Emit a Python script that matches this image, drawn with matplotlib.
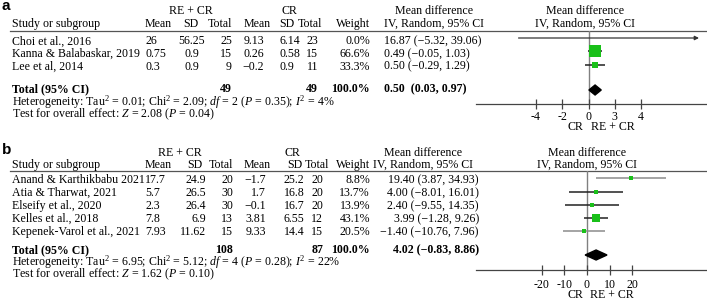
import matplotlib
matplotlib.use('Agg')
import matplotlib.pyplot as plt
from matplotlib.patches import Polygon

plt.rcParams['font.family'] = ['Liberation Serif', 'DejaVu Serif']
plt.rcParams['mathtext.fontset'] = 'custom'
plt.rcParams['mathtext.rm'] = 'Liberation Serif'
plt.rcParams['mathtext.it'] = 'Liberation Serif:italic'
plt.rcParams['mathtext.bf'] = 'Liberation Serif:bold'

# ---- panel a data ----
studies_a = ["Choi et al., 2016", "Kanna & Balabaskar, 2019", "Lee et al, 2014"]
re_mean_a = [26, 0.75, 0.3]
re_sd_a = [56.25, 0.9, 0.9]
re_n_a = [25, 15, 9]
cr_mean_a = [9.13, 0.26, -0.2]
cr_sd_a = [6.14, 0.58, 0.9]
cr_n_a = [23, 15, 11]
weight_a = [0.0, 66.6, 33.3]
md_a = [16.87, 0.49, 0.50]
lo_a = [-5.32, -0.05, -0.29]
hi_a = [39.06, 1.03, 1.29]
total_a = {"n_re": 49, "n_cr": 49, "md": 0.50, "lo": 0.03, "hi": 0.97}
het_a = r"Heterogeneity: Tau$^2$ = 0.01; Chi$^2$ = 2.09; $df$ = 2 ($P$ = 0.35); $I^2$ = 4%"
test_a = r"Test for overall effect: $Z$ = 2.08 ($P$ = 0.04)"
ticks_a = [-4, -2, 0, 2, 4]
ticklabels_a = ["-4", "-2", "0", "3", "4"]

# ---- panel b data ----
studies_b = ["Anand & Karthikbabu 2021", "Atia & Tharwat, 2021", "Elseify et al., 2020",
             "Kelles et al., 2018", "Kepenek-Varol et al., 2021"]
re_mean_b = [17.7, 5.7, 2.3, 7.8, 7.93]
re_sd_b = [24.9, 26.5, 26.4, 6.9, 11.62]
re_n_b = [20, 30, 30, 13, 15]
cr_mean_b = [-1.7, 1.7, -0.1, 3.81, 9.33]
cr_sd_b = [25.2, 16.8, 16.7, 6.55, 14.4]
cr_n_b = [20, 20, 20, 12, 15]
weight_b = [8.8, 13.7, 13.9, 43.1, 20.5]
md_b = [19.40, 4.00, 2.40, 3.99, -1.40]
lo_b = [3.87, -8.01, -9.55, -1.28, -10.76]
hi_b = [34.93, 16.01, 14.35, 9.26, 7.96]
total_b = {"n_re": 108, "n_cr": 87, "md": 4.02, "lo": -0.83, "hi": 8.86}
het_b = r"Heterogeneity: Tau$^2$ = 6.95; Chi$^2$ = 5.12; $df$ = 4 ($P$ = 0.28); $I^2$ = 22%"
test_b = r"Test for overall effect: $Z$ = 1.62 ($P$ = 0.10)"
ticks_b = [-20, -10, 0, 10, 20]
ticklabels_b = ["-20", "-10", "0", "10", "20"]

FS = 8.6
GREEN = '#19c019'
W, H = 707, 300

fig = plt.figure(figsize=(W / 100, H / 100), dpi=100)
base = fig.add_axes([0, 0, 1, 1])
base.set_xlim(0, W)
base.set_ylim(H, 0)
base.axis('off')


def fmt(v):
    return f"{v:g}".replace('-', '\u2212')


def ci_txt(m, l, h, sep=" "):
    return f"{m:.2f}{sep}({l:.2f}, {h:.2f})".replace('-', '\u2212')


def txt(x, y, s, ha='left', bold=False, **kw):
    # y is the visual middle of the capitals; place by baseline so plain and math text line up
    base.text(x, y + 4, s, ha=ha, va='baseline', fontsize=FS,
              fontweight='bold' if bold else 'normal', **kw)


def draw_panel(p):
    # headers
    base.text(2, p['y_lab'], p['label'], fontsize=11, fontweight='bold',
              family='Liberation Sans', ha='left', va='center')
    y1, y2 = p['y_h1'], p['y_h2']
    txt(p['re_hdr'], y1, "RE + CR", ha='center')
    txt(p['cr_hdr'], y1, "CR", ha='center')
    txt(p['md_hdr'], y1, "Mean difference", ha='center')
    txt(p['md_hdr'], y2, "IV, Random, 95% CI", ha='center')
    txt(p['fp_hdr'], y1, "Mean difference", ha='center')
    txt(p['fp_hdr'], y2, "IV, Random, 95% CI", ha='center')
    txt(12, y2, "Study or subgroup")
    for s, x in zip(["Mean", "SD", "Total", "Mean", "SD", "Total", "Weight"], p['hdr_x']):
        txt(x, y2, s, ha='right')
    base.plot([10, W], [p['y_line'], p['y_line']], color='#555555', lw=0.9)

    # study rows
    c = p['cols']
    for i, name in enumerate(p['studies']):
        y = p['rows'][i]
        txt(12, y, name)
        txt(c['re_mean'][0], y, fmt(p['re_mean'][i]), ha=c['re_mean'][1])
        txt(c['re_sd'][0], y, fmt(p['re_sd'][i]), ha=c['re_sd'][1])
        txt(c['re_n'][0], y, fmt(p['re_n'][i]), ha=c['re_n'][1])
        txt(c['cr_mean'][0], y, fmt(p['cr_mean'][i]), ha=c['cr_mean'][1])
        txt(c['cr_sd'][0], y, fmt(p['cr_sd'][i]), ha=c['cr_sd'][1])
        txt(c['cr_n'][0], y, fmt(p['cr_n'][i]), ha=c['cr_n'][1])
        txt(c['w'][0], y, f"{p['weight'][i]:.1f}%", ha=c['w'][1])
        txt(c['ci'][0], y, ci_txt(p['md'][i], p['lo'][i], p['hi'][i]), ha=c['ci'][1])

    t = p['total']
    yt = p['y_total']
    txt(12, yt, "Total (95% CI)", bold=True)
    txt(c['re_n'][0], yt, str(t['n_re']), ha='right', bold=True)
    txt(c['cr_n'][0], yt, str(t['n_cr']), ha='right', bold=True)
    txt(c['w'][0], yt, "100.0%", ha='right', bold=True)
    txt(c['ci'][0], yt, ci_txt(t['md'], t['lo'], t['hi'], p['tot_sep']), ha=c['ci'][1], bold=True)
    txt(12, p['y_het'], p['het'])
    txt(12, p['y_test'], p['test'])

    # forest plot
    x0, x1 = p['fx']
    ytop, ybot = p['y_line'], p['y_axis']
    z, k = p['zero'], p['ppu']
    ax = fig.add_axes([x0 / W, 1 - ybot / H, (x1 - x0) / W, (ybot - ytop) / H])
    ax.set_xlim((x0 - z) / k, (x1 - z) / k)
    ax.set_ylim(ybot, ytop)
    ax.patch.set_alpha(0)
    for s in ['top', 'right', 'left']:
        ax.spines[s].set_visible(False)
    ax.spines['bottom'].set_color('#444444')
    ax.spines['bottom'].set_linewidth(0.9)
    ax.set_yticks([])
    ax.set_xticks(p['ticks'])
    ax.set_xticklabels(p['ticklabels'])
    ax.tick_params(axis='x', direction='inout', length=7, width=0.9, color='#444444',
                   labelsize=FS, pad=p['tick_pad'])
    ax.axvline(0, color='#808080', lw=1.0, zorder=1)

    xmax = ax.get_xlim()[1]
    for i in range(len(p['md'])):
        y = p['marks'][i]
        lo, hi, m, w = p['lo'][i], p['hi'][i], p['md'][i], p['weight'][i]
        col = p['ci_colors'][i]
        if hi > xmax:
            ax.annotate('', xy=(xmax - 8 / k, y), xytext=(lo, y),
                        arrowprops=dict(arrowstyle='-|>', color='#333333', lw=0.9,
                                        mutation_scale=6, shrinkA=0, shrinkB=0))
        else:
            ax.plot([lo, hi], [y, y], color=col, lw=1.1, zorder=2, solid_capstyle='butt')
        if w > 0:
            size_px = max(4.0, 0.17 * w)
            ax.plot(m, y, marker='s', ms=size_px * 0.72, color=GREEN, mec=GREEN,
                    mew=0, zorder=3)
    yd = p['y_diamond']
    hh = 5
    ax.add_patch(Polygon([(t['lo'], yd), (t['md'], yd - hh), (t['hi'], yd), (t['md'], yd + hh)],
                         closed=True, color='black', zorder=3))
    base.text(p['cr_lab'][0], p['y_crlab'], "CR", ha='center', va='center', fontsize=FS)
    base.text(p['cr_lab'][1], p['y_crlab'], "RE + CR", ha='center', va='center', fontsize=FS)


panel_a = dict(
    label='a', studies=studies_a, re_mean=re_mean_a, re_sd=re_sd_a, re_n=re_n_a,
    cr_mean=cr_mean_a, cr_sd=cr_sd_a, cr_n=cr_n_a, weight=weight_a,
    md=md_a, lo=lo_a, hi=hi_a, total=total_a, het=het_a, test=test_a,
    ticks=ticks_a, ticklabels=ticklabels_a,
    y_lab=6, y_h1=10, y_h2=23, y_line=31,
    rows=[40.5, 53, 65.5], marks=[38, 51, 64.5], y_total=88.5, y_diamond=90,
    y_het=101.5, y_test=113, y_axis=104, y_crlab=127.5, tick_pad=1.5,
    re_hdr=191, cr_hdr=289, md_hdr=434, fp_hdr=585,
    hdr_x=[172, 199, 232, 271, 295, 322, 370],
    cols=dict(re_mean=(146, 'left'), re_sd=(192, 'center'), re_n=(232, 'right'),
              cr_mean=(264, 'right'), cr_sd=(280, 'left'), cr_n=(318, 'right'),
              w=(370, 'right'), ci=(384, 'left')),
    tot_sep="  ",
    fx=(476, 707), zero=588.5, ppu=13.15, cr_lab=(575, 613),
    ci_colors=['#333333', '#222222', '#222222'],
)

panel_b = dict(
    label='b', studies=studies_b, re_mean=re_mean_b, re_sd=re_sd_b, re_n=re_n_b,
    cr_mean=cr_mean_b, cr_sd=cr_sd_b, cr_n=cr_n_b, weight=weight_b,
    md=md_b, lo=lo_b, hi=hi_b, total=total_b, het=het_b, test=test_b,
    ticks=ticks_b, ticklabels=ticklabels_b,
    y_lab=150, y_h1=152, y_h2=164, y_line=171,
    rows=[179, 192, 205, 218, 231], marks=[177.5, 191.5, 204.5, 218, 231], y_total=249,
    y_diamond=255, y_het=262, y_test=273.5, y_axis=270, y_crlab=295, tick_pad=3,
    re_hdr=180, cr_hdr=292, md_hdr=423, fp_hdr=587,
    hdr_x=[172, 202, 233, 271, 302, 329, 370],
    cols=dict(re_mean=(145, 'left'), re_sd=(206, 'right'), re_n=(233, 'right'),
              cr_mean=(266, 'right'), cr_sd=(284, 'left'), cr_n=(323, 'right'),
              w=(370, 'right'), ci=(479, 'right')),
    tot_sep=" ",
    fx=(476, 707), zero=587, ppu=2.26, cr_lab=(575, 612),
    ci_colors=['#8c8c8c', '#222222', '#222222', '#222222', '#8c8c8c'],
)

draw_panel(panel_a)
draw_panel(panel_b)

fig.savefig('out.png', dpi=100)
